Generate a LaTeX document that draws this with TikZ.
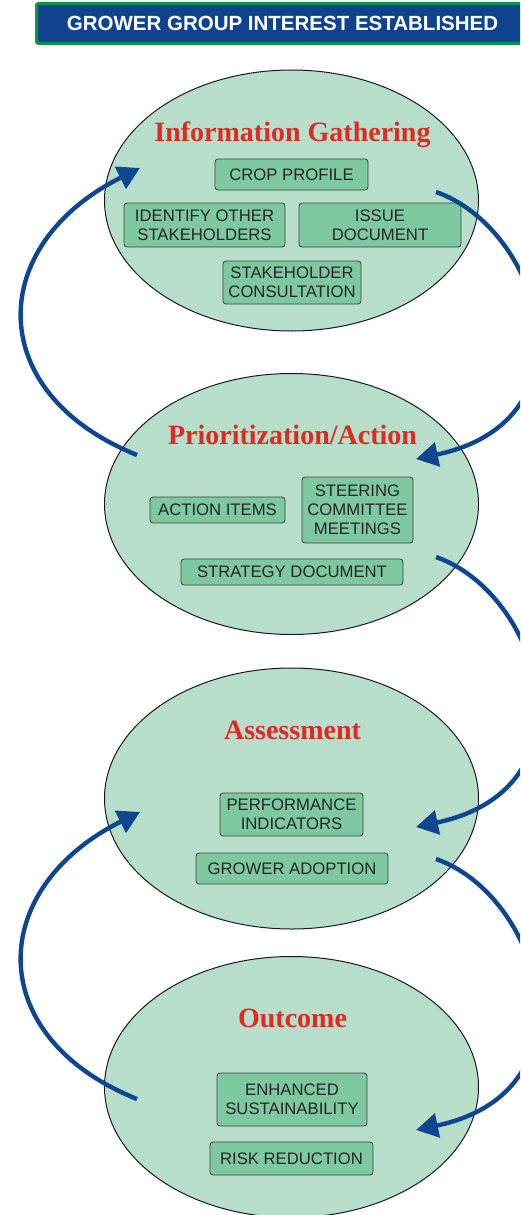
\documentclass[tikz,border=0pt]{standalone}
\usepackage{fontspec}
\setmainfont{Liberation Serif}
\setsansfont{Liberation Sans}
\usetikzlibrary{arrows.meta,shapes.geometric}
\definecolor{ovalgreen}{HTML}{B6DECA}
\definecolor{boxgreen}{HTML}{7DC8A0}
\definecolor{flowblue}{HTML}{0E4690}
\definecolor{bannerblue}{HTML}{0F4390}
\definecolor{bannergreen}{HTML}{0A9548}
\definecolor{titlered}{HTML}{DD2A22}
\begin{document}
\begin{tikzpicture}[x=1pt,y=-1pt,
 stage/.style={ellipse,draw=black!90,line width=1pt,fill=ovalgreen,minimum width=374pt,minimum height=261pt,inner sep=0pt},
 phase/.style={font=\bfseries\fontsize{28}{30}\selectfont,text=titlered,anchor=base,inner sep=0pt},
 item/.style 2 args={draw=black!75,fill=boxgreen,rounded corners=3pt,line width=0.8pt,minimum width=#1pt,minimum height=#2pt,inner sep=0pt,align=center,text=black!85,font=\sffamily\fontsize{16.7}{19}\selectfont},
 flow/.style={draw=flowblue,line width=4.4pt,-{Triangle[length=22pt,width=24pt]}}]
\useasboundingbox (0,0) rectangle (520,1215);
\clip (0,0) rectangle (520,1215);
\node[draw=bannergreen,line width=3pt,fill=bannerblue,rounded corners=2pt,minimum width=492pt,minimum height=40pt,text=white,font=\sffamily\bfseries\fontsize{20.5}{22}\selectfont] (banner) at (282.5,23.5) {GROWER GROUP INTEREST ESTABLISHED};
% the four stages
\node[stage] (info) at (291.5,200.5) {};
\node[stage] (prio) at (291.5,504) {};
\node[stage] (assess) at (291.5,798.5) {};
\node[stage] (outcome) at (291.5,1087) {};
\node[phase] (info-title) at (292.5,141) {Information Gathering};
\node[phase] (prio-title) at (292.5,444.5) {Prioritization/Action};
\node[phase] (assess-title) at (292.5,739) {Assessment};
\node[phase] (outcome-title) at (292.5,1027) {Outcome};
% items
\node[item={153}{31}] (crop) at (291.5,174.5) {CROP PROFILE};
\node[item={161}{44}] (others) at (204.5,225) {IDENTIFY OTHER\\STAKEHOLDERS};
\node[item={162}{44}] (issue) at (380,225) {ISSUE\\DOCUMENT};
\node[item={138}{43}] (consult) at (292,282.5) {STAKEHOLDER\\CONSULTATION};
\node[item={135}{26}] (action) at (217.5,510) {ACTION ITEMS};
\node[item={111}{66}] (steering) at (357.5,510) {STEERING\\COMMITTEE\\MEETINGS};
\node[item={222}{26}] (strategy) at (292,572) {STRATEGY DOCUMENT};
\node[item={143}{43}] (perf) at (291.5,814.5) {PERFORMANCE\\INDICATORS};
\node[item={192}{31}] (adopt) at (292,868.5) {GROWER ADOPTION};
\node[item={150}{53}] (sustain) at (292,1099.5) {ENHANCED\\SUSTAINABILITY};
\node[item={163}{33}] (risk) at (291.5,1158.5) {RISK REDUCTION};
% loop arrows
\coordinate (info-out) at (436,192);
\coordinate (info-in) at (140,168);
\coordinate (prio-in) at (416,459);
\coordinate (prio-back) at (137,455);
\coordinate (prio-out) at (436,557);
\coordinate (assess-in) at (416,827);
\coordinate (assess-back) at (140,812);
\coordinate (assess-out) at (436,859);
\coordinate (outcome-in) at (416,1130);
\coordinate (outcome-back) at (137,1099);
\foreach \a/\b in {info-out/prio-in,prio-out/assess-in,assess-out/outcome-in}
\draw[flow] (\a) .. controls +(104,36) and +(184,-39) .. (\b);
\foreach \a/\b in {prio-back/info-in,outcome-back/assess-back}
\draw[flow] (\a) .. controls +(-154,-62) and +(-154,77) .. (\b);
\end{tikzpicture}
\end{document}
